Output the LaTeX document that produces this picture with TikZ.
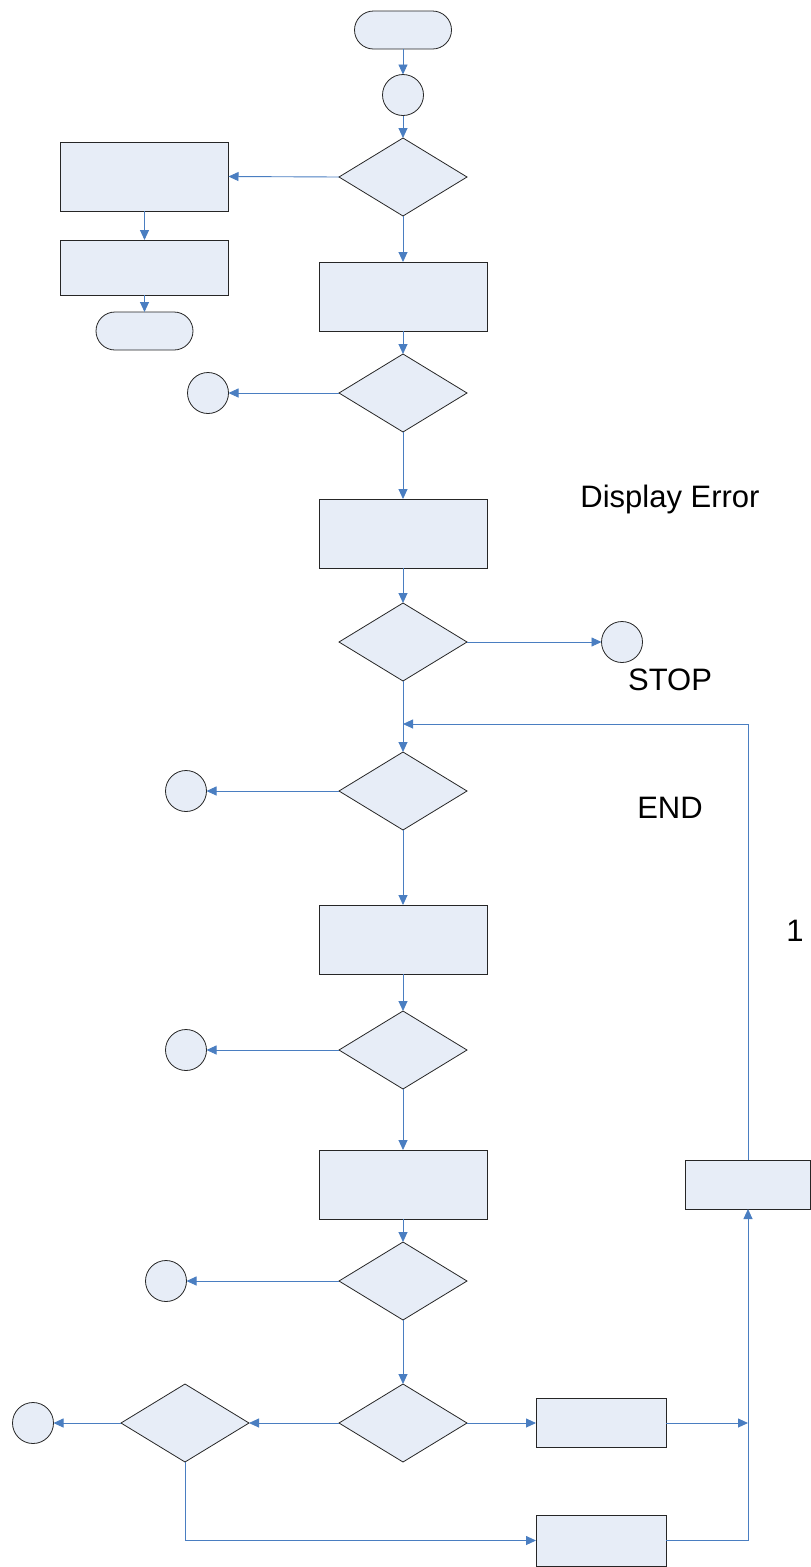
\documentclass[tikz,border=0pt]{standalone}
\usepackage{fontspec}
\setmainfont{Liberation Sans}
\usetikzlibrary{shapes.geometric,arrows.meta}
\definecolor{fillc}{RGB}{231,237,247}
\definecolor{linec}{RGB}{74,126,193}
\begin{document}
\begin{tikzpicture}[x=1pt,y=-1pt,
  shp/.style={draw=black!85, fill=fillc, line width=0.8pt, inner sep=0pt, outer sep=0pt},
  proc/.style={shp, rectangle, minimum width=168pt, minimum height=69pt},
  smallproc/.style={shp, rectangle, minimum width=130pt, minimum height=49pt},
  dec/.style={shp, diamond, minimum width=128pt, minimum height=78pt},
  conn/.style={shp, circle, minimum size=41pt},
  term/.style={shp, rectangle, rounded corners=19pt, minimum width=97pt, minimum height=38pt},
  arr/.style={draw=linec, line width=0.9pt, -{Triangle[length=10pt,width=9pt]}},
  lbl/.style={font=\fontsize{31}{37}\selectfont, inner sep=0pt}]
\useasboundingbox (0,0) rectangle (811,1567);

% nodes
\node[term] (s) at (403,30) {};
\node[conn] (c1) at (403,95) {};
\node[dec] (d1) at (403,177) {};
\node[proc] (bA) at (144.5,176.5) {};
\node[shp, rectangle, minimum width=168pt, minimum height=55pt] (bB) at (144.5,267.5) {};
\node[term] (t2) at (144.5,331) {};
\node[proc] (b1) at (403,296.5) {};
\node[dec] (d2) at (403,393) {};
\node[conn] (c2) at (208,393) {};
\node[proc] (b2) at (403,533.5) {};
\node[dec] (d3) at (403,642) {};
\node[conn] (c3) at (622,642) {};
\node[dec] (d4) at (403,791) {};
\node[conn] (c4) at (186,791) {};
\node[proc] (b3) at (403,939.5) {};
\node[dec] (d5) at (403,1050) {};
\node[conn] (c5) at (186,1050) {};
\node[proc] (b4) at (403,1184.5) {};
\node[dec] (d6) at (403,1281) {};
\node[conn] (c6) at (166,1281) {};
\node[dec] (d7) at (403,1423) {};
\node[dec] (d8) at (185,1423) {};
\node[conn] (c7) at (33,1423) {};
\node[smallproc] (b5) at (601,1423) {};
\node[smallproc, minimum height=51pt] (b6) at (601,1540.5) {};
\node[shp, rectangle, minimum width=125pt, minimum height=49pt] (b7) at (748,1184.5) {};

% labels
\node[lbl] (l1) at (670,499) {Display Error};
\node[lbl] (l2) at (670,680) {STOP};
\node[lbl] (l3) at (670,808) {END};
\node[lbl] (l4) at (795,931) {1};

% junction coordinates
\coordinate (j1) at (403,724);
\coordinate (j2) at (748,1423);

% connectors
\draw[arr] (s) -- (c1);
\draw[arr] (c1) -- (d1);
\draw[arr] (d1.west) -- (bA.east);
\draw[arr] (bA) -- (bB);
\draw[arr] (bB) -- (t2);
\draw[arr] (d1) -- (b1);
\draw[arr] (b1) -- (d2);
\draw[arr] (d2.west) -- (c2);
\draw[arr] (d2) -- (b2);
\draw[arr] (b2) -- (d3);
\draw[arr] (d3.east) -- (c3);
\draw[arr] (d3) -- (d4);
\draw[arr] (b7.north) |- (j1);
\draw[arr] (d4.west) -- (c4);
\draw[arr] (d4) -- (b3);
\draw[arr] (b3) -- (d5);
\draw[arr] (d5.west) -- (c5);
\draw[arr] (d5) -- (b4);
\draw[arr] (b4) -- (d6);
\draw[arr] (d6.west) -- (c6);
\draw[arr] (d6) -- (d7);
\draw[arr] (d7.west) -- (d8.east);
\draw[arr] (d8.west) -- (c7);
\draw[arr] (d7.east) -- (b5.west);
\draw[arr] (b5.east) -- (j2);
\draw[arr] (d8.south) |- (b6.west);
\draw[arr] (b6.east) -| (b7.south);
\end{tikzpicture}
\end{document}
